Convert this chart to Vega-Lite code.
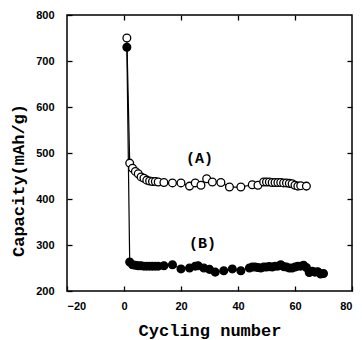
{
  "$schema": "https://vega.github.io/schema/vega-lite/v6.json",
  "width": 285,
  "height": 276,
  "autosize": {"type": "none"},
  "padding": {"left": 67, "top": 15, "right": 10, "bottom": 49},
  "background": "white",
  "config": {
    "view": {"stroke": "black", "strokeWidth": 1.5},
    "axis": {
      "domain": false,
      "grid": false,
      "tickColor": "black",
      "tickWidth": 1.3,
      "tickSize": 5,
      "offset": -5,
      "labelFont": "Liberation Sans",
      "labelFontWeight": "bold",
      "labelFontSize": 11,
      "labelColor": "black",
      "titleFont": "Liberation Mono",
      "titleFontWeight": "bold",
      "titleFontSize": 17,
      "titleColor": "black"
    }
  },
  "datasets": {
    "cap": [
      {"series": "A", "cycle": 1, "capacity": 750},
      {"series": "A", "cycle": 2, "capacity": 478},
      {"series": "A", "cycle": 3, "capacity": 467},
      {"series": "A", "cycle": 4, "capacity": 460},
      {"series": "A", "cycle": 5, "capacity": 455},
      {"series": "A", "cycle": 6, "capacity": 448},
      {"series": "A", "cycle": 7, "capacity": 445},
      {"series": "A", "cycle": 8, "capacity": 441},
      {"series": "A", "cycle": 9, "capacity": 439},
      {"series": "A", "cycle": 10, "capacity": 438},
      {"series": "A", "cycle": 11, "capacity": 438},
      {"series": "A", "cycle": 12, "capacity": 437},
      {"series": "A", "cycle": 14, "capacity": 436},
      {"series": "A", "cycle": 17, "capacity": 435},
      {"series": "A", "cycle": 20, "capacity": 435},
      {"series": "A", "cycle": 23, "capacity": 428},
      {"series": "A", "cycle": 25, "capacity": 435},
      {"series": "A", "cycle": 27, "capacity": 430},
      {"series": "A", "cycle": 29, "capacity": 444},
      {"series": "A", "cycle": 31, "capacity": 437},
      {"series": "A", "cycle": 34, "capacity": 436},
      {"series": "A", "cycle": 37, "capacity": 426},
      {"series": "A", "cycle": 41, "capacity": 426},
      {"series": "A", "cycle": 45, "capacity": 431},
      {"series": "A", "cycle": 47, "capacity": 430},
      {"series": "A", "cycle": 49, "capacity": 437},
      {"series": "A", "cycle": 50, "capacity": 437},
      {"series": "A", "cycle": 51, "capacity": 437},
      {"series": "A", "cycle": 52, "capacity": 436},
      {"series": "A", "cycle": 53, "capacity": 436},
      {"series": "A", "cycle": 54, "capacity": 436},
      {"series": "A", "cycle": 55, "capacity": 436},
      {"series": "A", "cycle": 56, "capacity": 435},
      {"series": "A", "cycle": 57, "capacity": 435},
      {"series": "A", "cycle": 58, "capacity": 434},
      {"series": "A", "cycle": 59, "capacity": 433},
      {"series": "A", "cycle": 60, "capacity": 430},
      {"series": "A", "cycle": 61, "capacity": 428},
      {"series": "A", "cycle": 62, "capacity": 429},
      {"series": "A", "cycle": 64, "capacity": 428},
      {"series": "B", "cycle": 1, "capacity": 730},
      {"series": "B", "cycle": 2, "capacity": 263},
      {"series": "B", "cycle": 3, "capacity": 257},
      {"series": "B", "cycle": 4, "capacity": 256},
      {"series": "B", "cycle": 5, "capacity": 255},
      {"series": "B", "cycle": 6, "capacity": 255},
      {"series": "B", "cycle": 7, "capacity": 254},
      {"series": "B", "cycle": 8, "capacity": 254},
      {"series": "B", "cycle": 9, "capacity": 254},
      {"series": "B", "cycle": 10, "capacity": 254},
      {"series": "B", "cycle": 11, "capacity": 254},
      {"series": "B", "cycle": 12, "capacity": 254},
      {"series": "B", "cycle": 14, "capacity": 255},
      {"series": "B", "cycle": 17, "capacity": 257},
      {"series": "B", "cycle": 20, "capacity": 248},
      {"series": "B", "cycle": 23, "capacity": 250},
      {"series": "B", "cycle": 25, "capacity": 254},
      {"series": "B", "cycle": 26, "capacity": 255},
      {"series": "B", "cycle": 28, "capacity": 250},
      {"series": "B", "cycle": 30, "capacity": 247},
      {"series": "B", "cycle": 32, "capacity": 241},
      {"series": "B", "cycle": 35, "capacity": 244},
      {"series": "B", "cycle": 38, "capacity": 248},
      {"series": "B", "cycle": 41, "capacity": 244},
      {"series": "B", "cycle": 44, "capacity": 250},
      {"series": "B", "cycle": 45, "capacity": 252},
      {"series": "B", "cycle": 46, "capacity": 252},
      {"series": "B", "cycle": 47, "capacity": 251},
      {"series": "B", "cycle": 48, "capacity": 250},
      {"series": "B", "cycle": 49, "capacity": 252},
      {"series": "B", "cycle": 50, "capacity": 252},
      {"series": "B", "cycle": 51, "capacity": 253},
      {"series": "B", "cycle": 52, "capacity": 252},
      {"series": "B", "cycle": 53, "capacity": 254},
      {"series": "B", "cycle": 54, "capacity": 254},
      {"series": "B", "cycle": 55, "capacity": 257},
      {"series": "B", "cycle": 56, "capacity": 253},
      {"series": "B", "cycle": 57, "capacity": 252},
      {"series": "B", "cycle": 58, "capacity": 250},
      {"series": "B", "cycle": 59, "capacity": 250},
      {"series": "B", "cycle": 60, "capacity": 252},
      {"series": "B", "cycle": 61, "capacity": 254},
      {"series": "B", "cycle": 62, "capacity": 254},
      {"series": "B", "cycle": 63, "capacity": 256},
      {"series": "B", "cycle": 64, "capacity": 251},
      {"series": "B", "cycle": 65, "capacity": 240},
      {"series": "B", "cycle": 66, "capacity": 243},
      {"series": "B", "cycle": 67, "capacity": 241},
      {"series": "B", "cycle": 68, "capacity": 242},
      {"series": "B", "cycle": 69, "capacity": 237},
      {"series": "B", "cycle": 70, "capacity": 238}
    ],
    "labels": [
      {"label": "(A)", "cycle": 26.5, "capacity": 489},
      {"label": "(B)", "cycle": 27.5, "capacity": 304}
    ]
  },
  "layer": [
    {
      "data": {"name": "cap"},
      "mark": {"type": "line", "color": "black", "strokeWidth": 1.2},
      "encoding": {
        "x": {
          "field": "cycle", "type": "quantitative",
          "scale": {"domain": [-20, 80], "nice": false},
          "axis": {"values": [-20, 0, 20, 40, 60, 80], "labelPadding": 9, "title": "Cycling number", "titleBaseline": "alphabetic", "titleY": 49}
        },
        "y": {
          "field": "capacity", "type": "quantitative",
          "scale": {"domain": [200, 800], "nice": false, "zero": false},
          "axis": {"values": [200, 300, 400, 500, 600, 700, 800], "labelPadding": 13, "title": "Capacity(mAh/g)", "titleAngle": 270, "titleAlign": "center", "titleBaseline": "middle", "titleX": -54, "titleY": 165}
        },
        "detail": {"field": "series"}
      }
    },
    {
      "data": {"name": "cap"},
      "mark": {"type": "point", "shape": "circle", "stroke": "black", "strokeWidth": 1.3, "size": 60, "opacity": 1},
      "encoding": {
        "x": {
          "field": "cycle", "type": "quantitative",
          "axis": {"orient": "top", "values": [0, 20, 40, 60], "labels": false, "title": null}
        },
        "y": {
          "field": "capacity", "type": "quantitative",
          "axis": {"orient": "right", "values": [300, 400, 500, 600, 700], "labels": false, "title": null}
        },
        "fill": {"field": "series", "type": "nominal", "scale": {"domain": ["A", "B"], "range": ["white", "black"]}, "legend": null}
      }
    },
    {
      "data": {"name": "labels"},
      "mark": {"type": "text", "font": "Liberation Mono", "fontWeight": "bold", "fontSize": 15, "color": "black", "align": "center", "baseline": "middle"},
      "encoding": {
        "x": {"field": "cycle", "type": "quantitative", "axis": null},
        "y": {"field": "capacity", "type": "quantitative", "axis": null},
        "text": {"field": "label"}
      }
    }
  ],
  "resolve": {"axis": {"x": "independent", "y": "independent"}}
}
